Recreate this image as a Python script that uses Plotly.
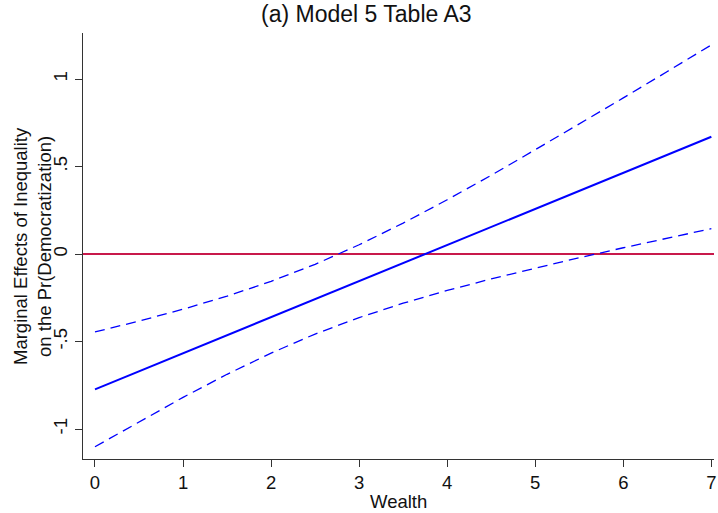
import plotly.graph_objects as go

wealth = [0, 0.5, 1, 1.5, 2, 2.5, 3, 3.5, 4, 4.5, 5, 5.5, 6, 6.5, 7]
marginal_effect = [-0.773, -0.670, -0.567, -0.464, -0.361, -0.258, -0.155, -0.052,
                   0.051, 0.154, 0.258, 0.361, 0.464, 0.567, 0.670]
upper_ci = [-0.445, -0.383, -0.315, -0.241, -0.156, -0.059, 0.053, 0.177,
            0.310, 0.450, 0.596, 0.743, 0.892, 1.043, 1.195]
lower_ci = [-1.101, -0.958, -0.819, -0.687, -0.566, -0.457, -0.363, -0.281,
            -0.208, -0.142, -0.080, -0.021, 0.036, 0.091, 0.145]
x_ticks = [0, 1, 2, 3, 4, 5, 6, 7]
y_ticks = [-1, -0.5, 0, 0.5, 1]
y_tick_labels = ["-1", "-.5", "0", ".5", "1"]
zero_line = [0, 0]
zero_x = [-0.136, 7.03]

FONT = "Liberation Sans, Arial, sans-serif"
BLUE = "#0000FF"

fig = go.Figure()
fig.add_trace(go.Scatter(x=zero_x, y=zero_line, mode="lines",
                         line=dict(color="#C8194B", width=2), hoverinfo="skip"))
fig.add_trace(go.Scatter(x=wealth, y=upper_ci, mode="lines",
                         line=dict(color=BLUE, width=1.3, dash="10px,6px")))
fig.add_trace(go.Scatter(x=wealth, y=lower_ci, mode="lines",
                         line=dict(color=BLUE, width=1.3, dash="10px,6px")))
fig.add_trace(go.Scatter(x=wealth, y=marginal_effect, mode="lines",
                         line=dict(color=BLUE, width=2)))

fig.update_layout(
    width=718, height=513,
    margin=dict(l=83, r=2, t=33, b=54),
    paper_bgcolor="white", plot_bgcolor="white",
    showlegend=False,
    font=dict(family=FONT, color="#111111", size=18.5),
    xaxis=dict(range=[-0.136, 7.03], tickvals=x_ticks, ticks="outside", ticklen=7,
               tickwidth=1.3, tickcolor="#333333", showline=True, linecolor="#333333",
               linewidth=1.3, showgrid=False, zeroline=False, ticklabeloverflow="allow",
               tickfont=dict(size=18.5, family=FONT, color="#111111")),
    yaxis=dict(range=[-1.171, 1.263], tickvals=y_ticks, ticktext=y_tick_labels,
               tickangle=-90, ticks="outside", ticklen=7, tickwidth=1.3,
               tickcolor="#333333", showline=True, linecolor="#333333", linewidth=1.3,
               showgrid=False, zeroline=False,
               tickfont=dict(size=18.5, family=FONT, color="#111111")),
    annotations=[
        dict(text="(a) Model 5 Table A3", x=0.449, y=1, xref="paper", yref="paper",
             xanchor="center", yanchor="bottom", yshift=4, showarrow=False,
             font=dict(size=23, family=FONT, color="#111111")),
        dict(text="Wealth", x=0.5, y=0, xref="paper", yref="paper",
             xanchor="center", yanchor="top", yshift=-30, showarrow=False,
             font=dict(size=18.5, family=FONT, color="#111111")),
        dict(text="Marginal Effects of Inequality<br>on the Pr(Democratization)",
             x=0, y=0.5, xref="paper", yref="paper", xanchor="center", yanchor="middle",
             textangle=-90, showarrow=False, xshift=32 - 83,
             font=dict(size=18.5, family=FONT, color="#111111")),
    ],
)

fig.write_html("out.html")
